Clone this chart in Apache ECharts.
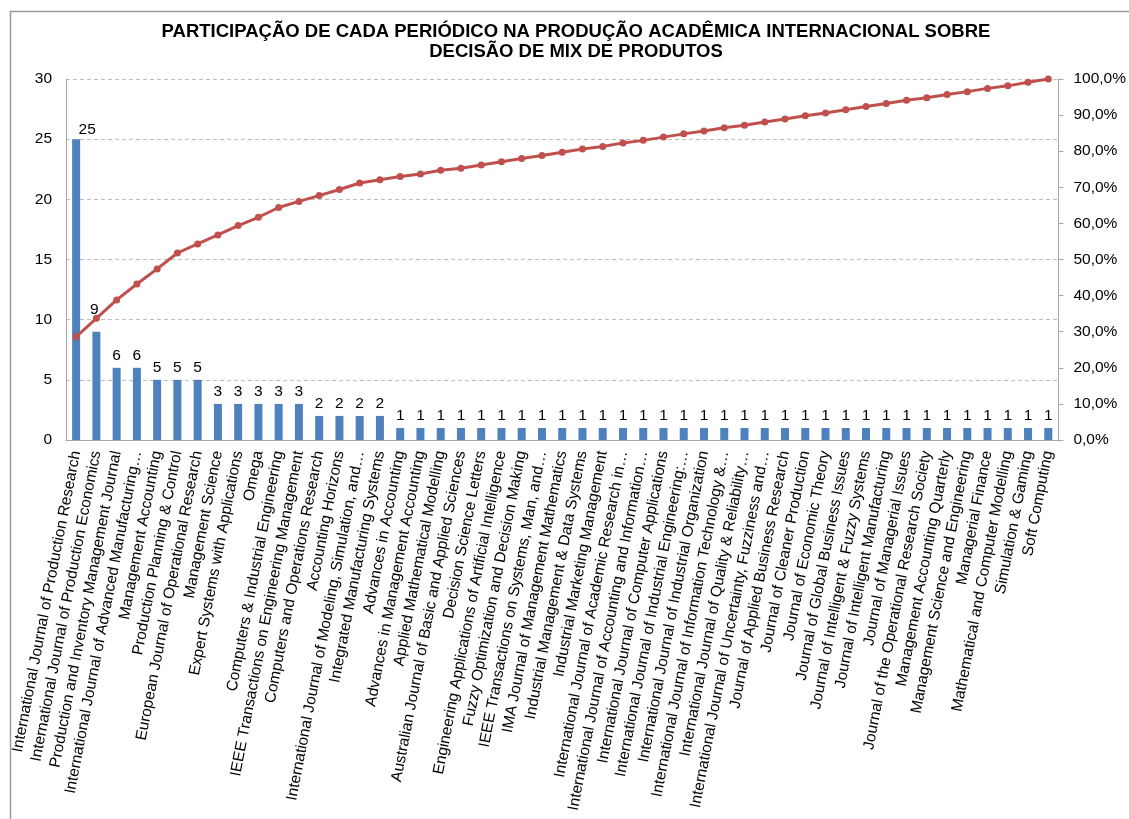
<!DOCTYPE html>
<html>
<head>
<meta charset="utf-8">
<script src="https://cdn.jsdelivr.net/npm/echarts@6/dist/echarts.min.js"></script>
<style>
html,body{margin:0;padding:0;background:#fff;}
#chart{width:1129px;height:819px;}
</style>
</head>
<body>
<div id="chart"></div>
<script>
const titleText = 'PARTICIPAÇÃO DE CADA PERIÓDICO NA PRODUÇÃO ACADÊMICA INTERNACIONAL SOBRE\nDECISÃO DE MIX DE PRODUTOS';

const categories = [
  'International Journal of Production Research',
  'International Journal of Production Economics',
  'Production and Inventory Management Journal',
  'International Journal of Advanced Manufacturing…',
  'Management Accounting',
  'Production Planning & Control',
  'European Journal of Operational Research',
  'Management Science',
  'Expert Systems with Applications',
  'Omega',
  'Computers & Industrial Engineering',
  'IEEE Transactions on Engineering Management',
  'Computers and Operations Research',
  'Accounting Horizons',
  'International Journal of Modeling, Simulation, and…',
  'Integrated Manufacturing Systems',
  'Advances in Accounting',
  'Advances in Management Accounting',
  'Applied Mathematical Modelling',
  'Australian Journal of Basic and Applied Sciences',
  'Decision Science Letters',
  'Engineering Applications of Artificial Intelligence',
  'Fuzzy Optimization and Decision Making',
  'IEEE Transactions on Systems, Man, and…',
  'IMA Journal of Management Mathematics',
  'Industrial Management & Data Systems',
  'Industrial Marketing Management',
  'International Journal of Academic Research in…',
  'International Journal of Accounting and Information…',
  'International Journal of Computer Applications',
  'International Journal of Industrial Engineering:…',
  'International Journal of Industrial Organization',
  'International Journal of Information Technology &…',
  'International Journal of Quality & Reliability…',
  'International Journal of Uncertainty, Fuzziness and…',
  'Journal of Applied Business Research',
  'Journal of Cleaner Production',
  'Journal of Economic Theory',
  'Journal of Global Business Issues',
  'Journal of Intelligent & Fuzzy Systems',
  'Journal of Intelligent Manufacturing',
  'Journal of Managerial Issues',
  'Journal of the Operational Research Society',
  'Management Accounting Quarterly',
  'Management Science and Engineering',
  'Managerial Finance',
  'Mathematical and Computer Modelling',
  'Simulation & Gaming',
  'Soft Computing'
];

const counts = [25, 9, 6, 6, 5, 5, 5, 3, 3, 3, 3, 3, 2, 2, 2, 2,
  1, 1, 1, 1, 1, 1, 1, 1, 1, 1, 1, 1, 1, 1, 1, 1, 1,
  1, 1, 1, 1, 1, 1, 1, 1, 1, 1, 1, 1, 1, 1, 1, 1];

const cumulativePct = [28.6, 33.7, 38.8, 43.2, 47.4, 51.8, 54.3, 56.8, 59.4, 61.7,
  64.4, 66.1, 67.7, 69.4, 71.2, 72.1, 73.0, 73.7, 74.7, 75.3,
  76.2, 77.1, 78.0, 78.8, 79.7, 80.6, 81.3, 82.3, 83.0, 83.9,
  84.8, 85.6, 86.5, 87.2, 88.1, 88.9, 89.8, 90.6, 91.5, 92.4,
  93.2, 94.1, 94.8, 95.7, 96.5, 97.4, 98.1, 99.1, 100.0];

const leftTicks = {min: 0, max: 30, interval: 5};
const rightTicks = {min: 0, max: 100, interval: 10};

// manual label nudges (as in the original, where two labels were moved)
const labelNudges = {0: [11, 3], 1: [-2, -10]};

const chart = echarts.init(document.getElementById('chart'), null, {renderer: 'canvas'});
const font = '"Liberation Sans", Arial, sans-serif';
const fs = 15.5;

const barData = counts.map((v, i) => labelNudges[i]
  ? {value: v, label: {offset: labelNudges[i]}}
  : v);

chart.setOption({
  backgroundColor: '#ffffff',
  animation: false,
  title: {
    text: titleText,
    left: 571,
    top: 17,
    textAlign: 'center',
    textStyle: {
      fontFamily: font, fontSize: 18.5, fontWeight: 'bold', color: '#000',
      lineHeight: 20
    }
  },
  graphic: [{
    type: 'rect', silent: true,
    shape: {x: 10.5, y: 11.5, width: 1200, height: 900},
    style: {fill: 'none', stroke: '#9a9a9a', lineWidth: 1.5}
  }],
  grid: {left: 66, right: 66, top: 79, bottom: 379, containLabel: false},
  xAxis: {
    type: 'category',
    data: categories,
    axisLine: {lineStyle: {color: '#a6a6a6', width: 1}},
    axisTick: {show: false},
    axisLabel: {
      interval: 0, rotate: 79, margin: 11,
      fontFamily: font, fontSize: fs, color: '#000'
    }
  },
  yAxis: [{
    type: 'value', position: 'left',
    min: leftTicks.min, max: leftTicks.max, interval: leftTicks.interval,
    axisLine: {show: true, lineStyle: {color: '#a6a6a6'}},
    axisTick: {show: false},
    axisLabel: {fontFamily: font, fontSize: fs, color: '#000', margin: 14},
    splitLine: {show: true, lineStyle: {color: '#bfbfbf', type: [4, 3], width: 1}}
  }, {
    type: 'value', position: 'right',
    min: rightTicks.min, max: rightTicks.max, interval: rightTicks.interval,
    axisLine: {show: true, lineStyle: {color: '#a6a6a6'}},
    axisTick: {show: true, inside: false, length: 5, lineStyle: {color: '#a6a6a6'}},
    axisLabel: {
      fontFamily: font, fontSize: fs, color: '#000', margin: 15,
      formatter: v => v.toFixed(1).replace('.', ',') + '%'
    },
    splitLine: {show: false}
  }],
  series: [{
    type: 'bar',
    data: barData,
    yAxisIndex: 0,
    barWidth: 8,
    itemStyle: {color: '#4F81BD'},
    label: {
      show: true, position: 'top', distance: 4,
      fontFamily: font, fontSize: fs, color: '#000'
    },
    z: 2
  }, {
    type: 'line',
    data: cumulativePct,
    yAxisIndex: 1,
    lineStyle: {color: '#C0504D', width: 3},
    itemStyle: {color: '#C0504D'},
    symbol: 'circle',
    symbolSize: 7,
    showSymbol: true,
    z: 3
  }]
});
</script>
</body>
</html>
